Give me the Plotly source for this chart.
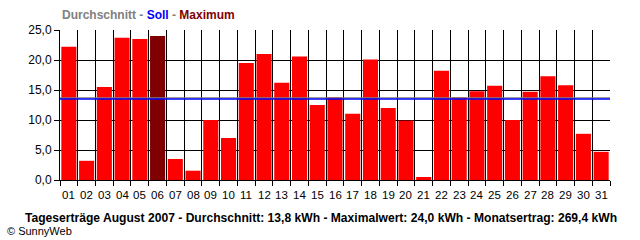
import plotly.graph_objects as go

days = [f"{d:02d}" for d in range(1, 32)]
yields = [22.2, 3.2, 15.5, 23.7, 23.5, 24.0, 3.5, 1.55, 10.0, 7.0,
          19.5, 21.0, 16.2, 20.6, 12.5, 13.8, 11.05, 20.1, 12.0, 9.9,
          0.5, 18.2, 13.8, 14.8, 15.7, 10.0, 14.7, 17.3, 15.8, 7.7, 4.7]
average = 13.7
target = 13.5
max_day = "06"
y_ticks = [0, 5, 10, 15, 20, 25]

colors = ["#800000" if d == max_day else "#FF0000" for d in days]

fig = go.Figure()
fig.add_trace(go.Bar(x=days, y=yields, marker=dict(color=colors, line=dict(width=0)),
                     hoverinfo="x+y"))

for val, col in [(average, "#808080"), (target, "#0000FF")]:
    fig.add_shape(type="line", xref="paper", yref="y", x0=0, x1=1, y0=val, y1=val,
                  line=dict(color=col, width=1.3), layer="above")

font_fam = "Liberation Sans, Arial, sans-serif"

fig.update_layout(
    width=640, height=240,
    margin=dict(l=60, r=30, t=30, b=60),
    paper_bgcolor="white", plot_bgcolor="white",
    showlegend=False,
    bargap=0.15,
    separators=",.",
    font=dict(family=font_fam, size=11, color="black"),
    xaxis=dict(
        type="category", range=[-0.5, 30.5],
        tickson="boundaries", ticks="outside", ticklen=5, tickcolor="black",
        showticklabels=False,
        showgrid=True, gridcolor="black", gridwidth=1,
        showline=True, linecolor="black", linewidth=1, mirror=False,
        fixedrange=True,
    ),
    yaxis=dict(
        range=[0, 25], tickvals=y_ticks, tickformat=".1f",
        showgrid=True, gridcolor="black", gridwidth=1,
        ticks="outside", ticklen=5, tickcolor="black",
        showline=True, linecolor="black", linewidth=1,
        zeroline=False,
        tickfont=dict(family=font_fam, size=12),
        fixedrange=True,
    ),
)

# day labels placed below the category positions (category index on the x axis)
for i, d in enumerate(days):
    fig.add_annotation(x=i, xref="x", y=0, yref="paper", yanchor="top", yshift=-7,
                       showarrow=False, text=d,
                       font=dict(family=font_fam, size=11.5, color="black"))

fig.add_annotation(
    xref="paper", yref="paper", x=0, y=1, xanchor="left", yanchor="bottom", yshift=6,
    showarrow=False,
    text="<b><span style='color:#808080'>Durchschnitt - </span>"
         "<span style='color:#0000FF'>Soll</span>"
         "<span style='color:#808080'> - </span>"
         "<span style='color:#800000'>Maximum</span></b>",
    font=dict(family=font_fam, size=12),
)
fig.add_annotation(
    xref="paper", yref="paper", x=0.474, y=0, xanchor="center", yanchor="top", yshift=-29,
    showarrow=False,
    text="<b>Tageserträge August 2007 - Durchschnitt: 13,8 kWh - Maximalwert: 24,0 kWh - Monatsertrag: 269,4 kWh</b>",
    font=dict(family=font_fam, size=12.1, color="black"),
)
fig.add_annotation(
    xref="paper", yref="paper", x=-0.1, y=0, xanchor="left", yanchor="top", yshift=-43,
    showarrow=False,
    text="© SunnyWeb",
    font=dict(family=font_fam, size=11, color="black"),
)

fig.write_html("out.html")
